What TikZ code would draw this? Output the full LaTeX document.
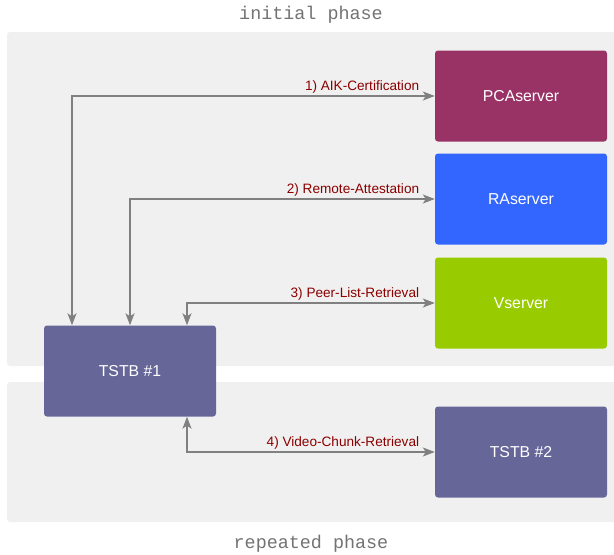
\documentclass[tikz,border=0pt]{standalone}
\usepackage{fontspec}
\setmainfont{Liberation Sans}
\setmonofont{Liberation Mono}
\usepackage{tikz}
\usetikzlibrary{arrows.meta}

\definecolor{panel}{HTML}{F0F0F0}
\definecolor{pca}{HTML}{993366}
\definecolor{ra}{HTML}{3366FF}
\definecolor{vs}{HTML}{99CC00}
\definecolor{tstb}{HTML}{666699}
\definecolor{msg}{HTML}{8B0000}
\definecolor{link}{HTML}{808080}

\tikzset{
  box/.style={rounded corners=3pt, minimum width=172pt, minimum height=91pt,
    inner sep=0pt, text=white, font=\fontsize{15.8pt}{18pt}\selectfont},
  msglabel/.style={anchor=south east, text=msg, inner sep=2pt, xshift=-13pt,
    font=\fontsize{13.6pt}{16pt}\selectfont},
  phase/.style={text=black!55, font=\ttfamily\fontsize{18.4pt}{20pt}\selectfont},
  link/.style={draw=link, line width=1.3pt,
    >={Stealth[length=12pt,width=9pt,inset=3pt]}, <->}
}

\begin{document}
\begin{tikzpicture}[x=1pt,y=-1pt]
\useasboundingbox (0,0) rectangle (614,555);
% panels
\fill[panel, rounded corners=3pt] (7,32) rectangle (616,366);
\fill[panel, rounded corners=3pt] (7,382) rectangle (616,522);
\node[phase] (ini) at (311,15) {initial phase};
\node[phase] (rep) at (311,544) {repeated phase};
% boxes
\node[box, fill=pca]  (pcaserver) at (521,96)  {PCAserver};
\node[box, fill=ra]   (raserver)  at (521,199) {RAserver};
\node[box, fill=vs]   (vserver)   at (521,303) {Vserver};
\node[box, fill=tstb] (tstbtwo)   at (521,452) {TSTB \#2};
\node[box, fill=tstb] (tstbone)   at (130,371) {TSTB \#1};
% links
\draw[link] ([xshift=-58pt]tstbone.north) |- (pcaserver.west)
  node[msglabel, pos=1] {1) AIK-Certification};
\draw[link] (tstbone.north) |- (raserver.west)
  node[msglabel, pos=1] {2) Remote-Attestation};
\draw[link] ([xshift=57pt]tstbone.north) |- (vserver.west)
  node[msglabel, pos=1] {3) Peer-List-Retrieval};
\draw[link] ([xshift=57pt]tstbone.south) |- (tstbtwo.west)
  node[msglabel, pos=1] {4) Video-Chunk-Retrieval};
\end{tikzpicture}
\end{document}
